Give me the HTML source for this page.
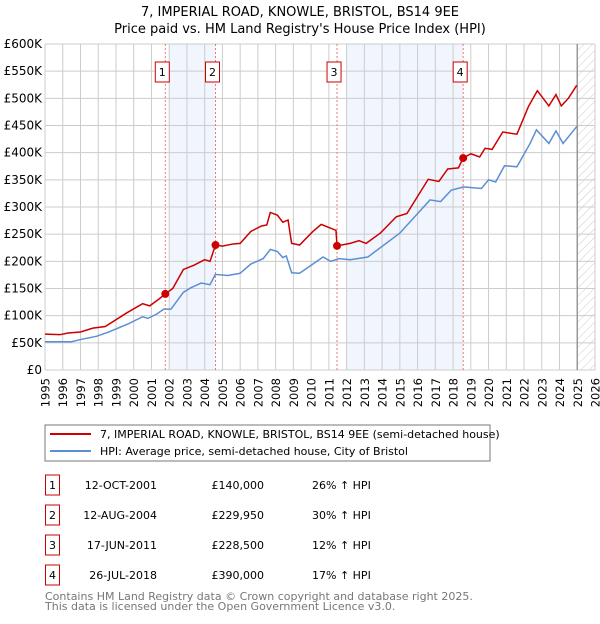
<!DOCTYPE html>
<html><head><meta charset="utf-8"><style>
body{margin:0;background:#fff;width:600px;height:620px;overflow:hidden;font-family:"DejaVu Sans","Liberation Sans",sans-serif}
svg text{font-family:"DejaVu Sans","Liberation Sans",sans-serif}
</style></head><body>
<svg id="c" width="600" height="620" xmlns="http://www.w3.org/2000/svg">
<defs><pattern id="hatch" width="6" height="6" patternUnits="userSpaceOnUse" patternTransform="rotate(45)"><line x1="0" y1="0" x2="0" y2="6" stroke="#ccc" stroke-width="1"/></pattern></defs>
<text x="300" y="16" text-anchor="middle" font-size="13">7, IMPERIAL ROAD, KNOWLE, BRISTOL, BS14 9EE</text>
<text x="300" y="33" text-anchor="middle" font-size="13">Price paid vs. HM Land Registry's House Price Index (HPI)</text>
<g id="plot"></g>
<g>
<rect x="45" y="425" width="445" height="36" fill="#fff" stroke="#777" stroke-width="1"/>
<line x1="50" y1="434" x2="91" y2="434" stroke="#cc0000" stroke-width="2"/>
<text x="100" y="438" font-size="11">7, IMPERIAL ROAD, KNOWLE, BRISTOL, BS14 9EE (semi-detached house)</text>
<line x1="50" y1="451" x2="91" y2="451" stroke="#5b8fd4" stroke-width="2"/>
<text x="100" y="455" font-size="11">HPI: Average price, semi-detached house, City of Bristol</text>
</g>
<g id="table" font-size="11"></g>
<text x="45" y="600" font-size="11" fill="#777">Contains HM Land Registry data © Crown copyright and database right 2025.</text>
<text x="45" y="610" font-size="11" fill="#777">This data is licensed under the Open Government Licence v3.0.</text>
</svg>
<script>
const hpiYears=[1995,1996.5,1997,1997.9,1998.6,1999.7,2000.5,2000.8,2001.3,2001.7,2002.1,2002.8,2003.2,2003.8,2004.3,2004.6,2005.3,2006,2006.6,2007.3,2007.7,2008.1,2008.4,2008.6,2008.9,2009.35,2010.67,2011.1,2011.57,2012.2,2013.2,2015,2016.7,2017.3,2017.9,2018.6,2019.6,2020,2020.4,2020.9,2021.6,2022.34,2022.7,2023.4,2023.8,2024.2,2024.97];
const hpiValues=[52,52,56,62,70,85,98,95,103,112,112,143,151,160,157,176,174,178,195,205,222,218,207,210,179,178,208,200,205,203,208,252,313,310,331,337,334,350,346,376,374,417,442,417,440,417,448];
const propYears=[1995,1995.85,1996.3,1997,1997.7,1998.4,1999.6,2000.5,2000.9,2001.4,2001.78,2002.2,2002.8,2003.4,2004,2004.3,2004.61,2005,2005.6,2006,2006.6,2007.2,2007.5,2007.7,2008.1,2008.4,2008.7,2008.9,2009.35,2010.1,2010.57,2011.4,2011.46,2012.2,2012.7,2013.1,2013.9,2014.8,2015.4,2016.6,2017.2,2017.7,2018.3,2018.57,2019,2019.5,2019.8,2020.2,2020.8,2021.6,2022.25,2022.75,2023.4,2023.8,2024.1,2024.5,2024.97];
const propValues=[66,65,68,70,77,80,105,122,118,130,140,150,185,193,203,200,229.95,228,232,233,255,265,267,290,285,272,276,233,230,255,268,257,228.5,233,238,233,252,282,288,351,347,370,372,390,398,392,408,406,438,434,485,514,486,507,486,500,524];
const saleYears=[2001.78,2004.61,2011.46,2018.57];
const saleValues=[140,229.95,228.5,390];
const saleDates=["12-OCT-2001","12-AUG-2004","17-JUN-2011","26-JUL-2018"];
const salePrices=["£140,000","£229,950","£228,500","£390,000"];
const saleHpi=["26% ↑ HPI","30% ↑ HPI","12% ↑ HPI","17% ↑ HPI"];
const yTicks=[0,50,100,150,200,250,300,350,400,450,500,550,600];
const yTickLabels=["£0","£50K","£100K","£150K","£200K","£250K","£300K","£350K","£400K","£450K","£500K","£550K","£600K"];
const shadeSpans=[[2002,2004.61],[2012,2018.57]];
const X0=45,X1=595,Y0=370,Y1=44;
const x=y=>X0+(y-1995)*(X1-X0)/31;
const yv=v=>Y0-v*(Y0-Y1)/600;
const NS="http://www.w3.org/2000/svg";
const plot=document.getElementById('plot');
function mk(tag,attrs,parent){const e=document.createElementNS(NS,tag);for(const k in attrs)e.setAttribute(k,attrs[k]);(parent||plot).appendChild(e);return e;}
shadeSpans.forEach(s=>{const r=mk('rect',{x:x(s[0]),y:Y1,width:x(s[1])-x(s[0]),height:Y0-Y1,fill:'#eef3fc',opacity:0.8});

});
const hr=mk('rect',{x:x(2025),y:Y1,width:X1-x(2025),height:Y0-Y1,fill:'url(#hatch)'});


yTicks.forEach((t,i)=>{const l=mk('line',{x1:X0,x2:X1,y1:yv(t),y2:yv(t),stroke:'#ccc','stroke-width':1});


const tx=mk('text',{x:42,y:yv(t)+4,'text-anchor':'end','font-size':12});tx.textContent=yTickLabels[i];

});
for(let yr=1995;yr<=2026;yr++){const l=mk('line',{x1:x(yr),x2:x(yr),y1:Y1,y2:Y0,stroke:'#ccc','stroke-width':1});


const tx=mk('text',{x:0,y:0,'text-anchor':'end','font-size':11.5,transform:'translate('+(x(yr)+4.5)+',378) rotate(-90)'});tx.textContent=yr;

}
const vl=mk('line',{x1:x(2025),x2:x(2025),y1:Y1,y2:Y0,stroke:'#999','stroke-width':1.5});


saleYears.forEach((s,i)=>{const l=mk('line',{x1:x(s),x2:x(s),y1:Y1,y2:Y0,stroke:'#e77','stroke-width':1,'stroke-dasharray':'2,2'});


const b=mk('rect',{x:x(s)-10,y:62,width:14,height:20,fill:'#fff',stroke:'#c00','stroke-width':1});


const t=mk('text',{x:x(s)-3,y:76,'text-anchor':'middle','font-size':11});t.textContent=i+1;

});
const hp=mk('polyline',{points:hpiYears.map((a,i)=>x(a)+','+yv(hpiValues[i])).join(' '),fill:'none',stroke:'#5b8fd4','stroke-width':1.5});


const pp=mk('polyline',{points:propYears.map((a,i)=>x(a)+','+yv(propValues[i])).join(' '),fill:'none',stroke:'#cc0000','stroke-width':1.5});


saleYears.forEach((s,i)=>{const c=mk('circle',{cx:x(s),cy:yv(saleValues[i]),r:4,fill:'#cc0000'});

});
const tb=document.getElementById('table');
saleDates.forEach((d,i)=>{const yy=475+i*30;
const b=mk('rect',{x:45.5,y:yy,width:14,height:20,fill:'none',stroke:'#c00','stroke-width':1},tb);


const n=mk('text',{x:52.5,y:yy+14,'text-anchor':'middle'},tb);n.textContent=i+1;


const t1=mk('text',{x:157,y:yy+14,'text-anchor':'end'},tb);t1.textContent=d;


const t2=mk('text',{x:264,y:yy+14,'text-anchor':'end'},tb);t2.textContent=salePrices[i];


const t3=mk('text',{x:312,y:yy+14},tb);t3.textContent=saleHpi[i];

});
</script>
</body></html>
